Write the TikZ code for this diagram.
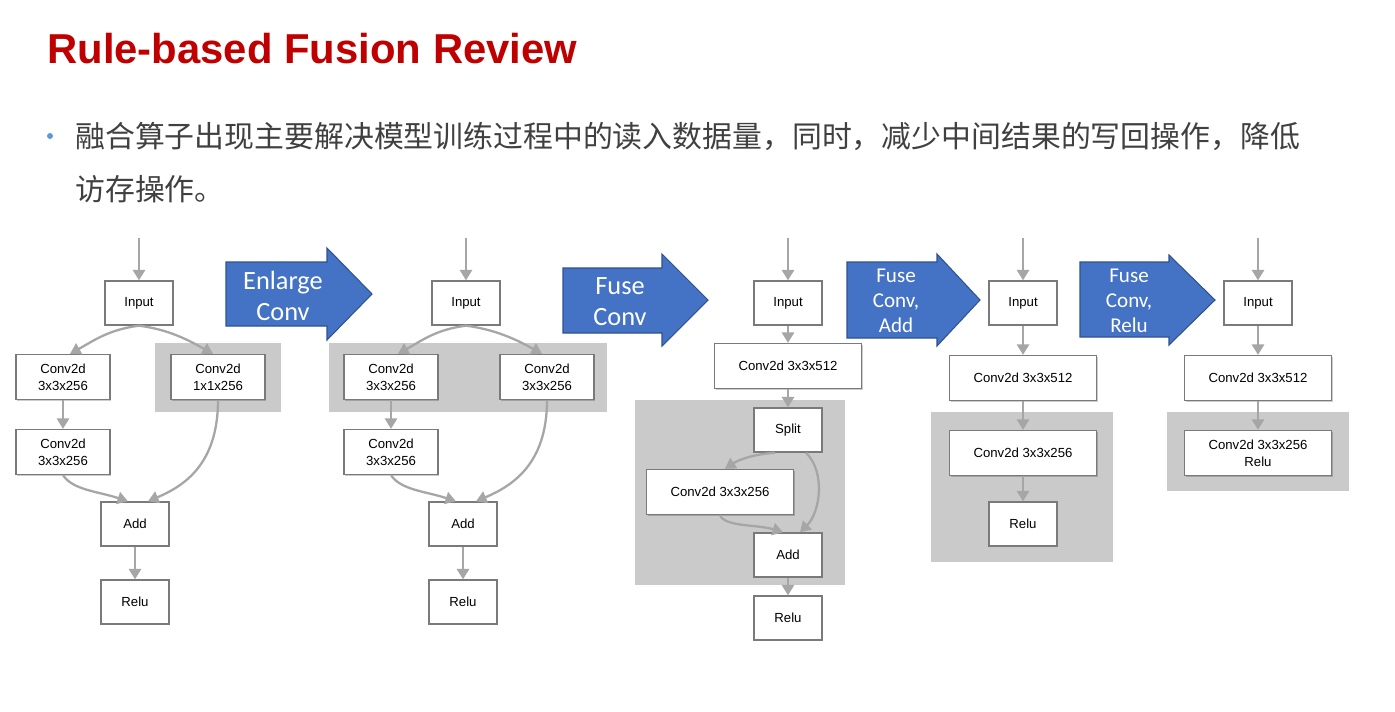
\documentclass[tikz,border=0pt]{standalone}
\usepackage{fontspec}
\setmainfont{Liberation Sans}
\newfontfamily\cjkfont{Noto Sans CJK SC}
\newfontfamily\arrowfont{Carlito}
\usetikzlibrary{arrows.meta,shadows}
\definecolor{titlered}{HTML}{C00000}
\definecolor{textgray}{HTML}{404040}
\definecolor{bulletblue}{HTML}{5B9BD5}
\definecolor{boxgray}{HTML}{7A7A7A}
\definecolor{flowgray}{HTML}{A6A6A6}
\definecolor{groupgray}{HTML}{CACACA}
\definecolor{fuseblue}{HTML}{4472C4}
\definecolor{fuseedge}{HTML}{2F528F}

\begin{document}
\begin{tikzpicture}[x=0.02cm, y=-0.02cm]

        % Setup the styles for the boxes and arrows
        \tikzset{box style/.style={draw=boxgray,
                                   fill=white,
                                   line width=0.75pt,
                                   minimum width=1.36cm,
                                   minimum height=0.88cm,
                                   inner sep=1pt,
                                   align=center,
                                   font=\fontsize{7.5}{9.8}\selectfont,
                                   drop shadow={shadow xshift=0.7pt, shadow yshift=-0.7pt,
                                                opacity=0.2, fill=black}},
                 conv style/.style={box style, minimum width=1.88cm, minimum height=0.9cm},
                 wide style/.style={box style, minimum width=2.94cm, minimum height=0.9cm},
                 flow style/.style={draw=flowgray,
                                    line width=1.3pt,
                                    -{Triangle[width=7pt, length=6pt]}},
                 group style/.style={fill=groupgray},
                 fuse style/.style={fill=fuseblue, draw=fuseedge, line width=0.6pt},
                 fuse text/.style={text=white, align=center, inner sep=0pt}}

        \useasboundingbox[fill=white] (0,0) rectangle (1395,711);

        % Title and bullet
        \node[anchor=base west, inner sep=0pt, text=titlered,
              font=\bfseries\fontsize{23.8}{28}\selectfont] at (47,63) (title) {Rule-based Fusion Review};
        \node[circle, fill=bulletblue, inner sep=0pt, minimum size=0.12cm] at (50,136) (dot) {};
        \node[anchor=base west, inner sep=0pt, text=textgray,
              font=\cjkfont\fontsize{17}{20}\selectfont] at (75,147) (line1)
              {融合算子出现主要解决模型训练过程中的读入数据量，同时，减少中间结果的写回操作，降低};
        \node[anchor=base west, inner sep=0pt, text=textgray,
              font=\cjkfont\fontsize{17}{20}\selectfont] at (75,200) (line2) {访存操作。};

        % Grey groups
        \fill[group style] (155,343) rectangle (281,412);
        \fill[group style] (329,343) rectangle (607,412);
        \fill[group style] (635,400) rectangle (845,585);
        \fill[group style] (931,412) rectangle (1113,562);
        \fill[group style] (1167,412) rectangle (1349,491);

        % Fuse arrows
        \draw[fuse style] (226,262) -- (327,262) -- (327,248) -- (372,294)
            -- (327,340) -- (327,326) -- (226,326) -- cycle;
        \node[fuse text, font=\arrowfont\fontsize{15}{17.6}\selectfont] at (283,296) (enlarge) {Enlarge\\Conv};
        \draw[fuse style] (563,268) -- (662,268) -- (662,254) -- (708,300)
            -- (662,346) -- (662,333) -- (563,333) -- cycle;
        \node[fuse text, font=\arrowfont\fontsize{15}{17.6}\selectfont] at (620,302) (fuseconv) {Fuse\\Conv};
        \draw[fuse style] (847,262) -- (937,262) -- (937,254) -- (980,300)
            -- (937,346) -- (937,338) -- (847,338) -- cycle;
        \node[fuse text, font=\arrowfont\fontsize{12}{14.2}\selectfont] at (896,301) (fuseadd) {Fuse\\Conv,\\Add};
        \draw[fuse style] (1080,262) -- (1169,262) -- (1169,255) -- (1215,300)
            -- (1169,345) -- (1169,337) -- (1080,337) -- cycle;
        \node[fuse text, font=\arrowfont\fontsize{12}{14.2}\selectfont] at (1129,301) (fuserelu) {Fuse\\Conv,\\Relu};

        % Graph 1
        \coordinate (top1) at (139,238);
        \node[box style]  at (139,303) (in1)    {Input};
        \node[conv style] at (63,377)  (convA1) {Conv2d\\3x3x256};
        \node[conv style] at (218,377) (convB1) {Conv2d\\1x1x256};
        \node[conv style] at (63,452)  (convC1) {Conv2d\\3x3x256};
        \node[box style]  at (135,524) (add1)   {Add};
        \node[box style]  at (135,602) (relu1)  {Relu};

        \draw[flow style] (top1) -- (in1);
        \draw[flow style] (in1.south) .. controls +(-30,4) and +(25,-14) .. ([xshift=0.14cm]convA1.north);
        \draw[flow style] (in1.south) .. controls +(30,4) and +(-25,-14) .. ([xshift=-0.1cm]convB1.north);
        \draw[flow style] (convA1) -- (convC1);
        \draw[flow style] (convC1.south) .. controls +(10,15) and +(-30,-10) .. ([xshift=-0.14cm]add1.north);
        \draw[flow style] (convB1.south) .. controls +(0,65) and +(35,-15) .. ([xshift=0.26cm]add1.north);
        \draw[flow style] (add1) -- (relu1);

        % Graph 2
        \coordinate (top2) at (466,238);
        \node[box style]  at (466,303) (in2)    {Input};
        \node[conv style] at (391,377) (convA2) {Conv2d\\3x3x256};
        \node[conv style] at (547,377) (convB2) {Conv2d\\3x3x256};
        \node[conv style] at (391,452) (convC2) {Conv2d\\3x3x256};
        \node[box style]  at (463,524) (add2)   {Add};
        \node[box style]  at (463,602) (relu2)  {Relu};

        \draw[flow style] (top2) -- (in2);
        \draw[flow style] (in2.south) .. controls +(-30,4) and +(25,-14) .. ([xshift=0.14cm]convA2.north);
        \draw[flow style] (in2.south) .. controls +(30,4) and +(-25,-14) .. ([xshift=-0.1cm]convB2.north);
        \draw[flow style] (convA2) -- (convC2);
        \draw[flow style] (convC2.south) .. controls +(10,15) and +(-30,-10) .. ([xshift=-0.14cm]add2.north);
        \draw[flow style] (convB2.south) .. controls +(0,65) and +(35,-15) .. ([xshift=0.26cm]add2.north);
        \draw[flow style] (add2) -- (relu2);

        % Graph 3
        \coordinate (top3) at (788,238);
        \node[box style]  at (788,303) (in3)    {Input};
        \node[wide style] at (788,366) (big3)   {Conv2d 3x3x512};
        \node[box style]  at (788,430) (split3) {Split};
        \node[wide style] at (720,492) (conv3)  {Conv2d 3x3x256};
        \node[box style]  at (788,555) (add3)   {Add};
        \node[box style]  at (788,618) (relu3)  {Relu};

        \draw[flow style] (top3) -- (in3);
        \draw[flow style] (in3) -- (big3);
        \draw[flow style] (big3) -- (split3);
        \draw[flow style] ([xshift=-0.26cm]split3.south) .. controls +(-25,2) and +(12,-8) .. ([xshift=0.1cm]conv3.north);
        \draw[flow style] ([xshift=0.36cm]split3.south) .. controls +(20,20) and +(20,-20) .. ([xshift=0.24cm]add3.north);
        \draw[flow style] (conv3.south) .. controls +(5,12) and +(-25,-8) .. ([xshift=-0.1cm]add3.north);
        \draw[flow style] (add3) -- (relu3);

        % Graph 4
        \coordinate (top4) at (1023,238);
        \node[box style]  at (1023,303) (in4)   {Input};
        \node[wide style] at (1023,378) (big4)  {Conv2d 3x3x512};
        \node[wide style] at (1023,453) (conv4) {Conv2d 3x3x256};
        \node[box style]  at (1023,524) (relu4) {Relu};

        \draw[flow style] (top4) -- (in4);
        \draw[flow style] (in4) -- (big4);
        \draw[flow style] (big4) -- (conv4);
        \draw[flow style] (conv4) -- (relu4);

        % Graph 5
        \coordinate (top5) at (1258,238);
        \node[box style]  at (1258,303) (in5)   {Input};
        \node[wide style] at (1258,378) (big5)  {Conv2d 3x3x512};
        \node[wide style] at (1258,453) (conv5) {Conv2d 3x3x256\\Relu};

        \draw[flow style] (top5) -- (in5);
        \draw[flow style] (in5) -- (big5);
        \draw[flow style] (big5) -- (conv5);
\end{tikzpicture}
\end{document}
